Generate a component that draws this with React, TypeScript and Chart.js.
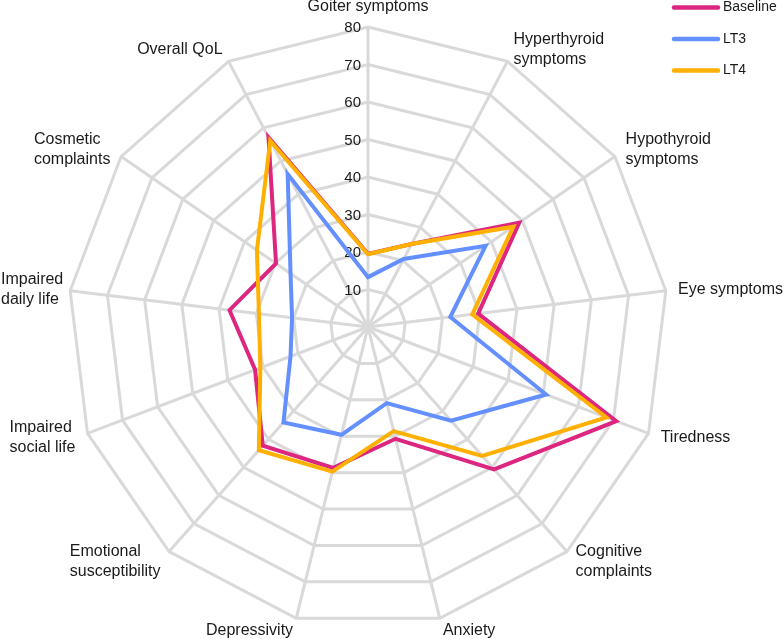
import React, { useEffect, useRef } from 'react';
import { Chart, registerables } from 'chart.js';

Chart.register(...registerables);

const CATEGORIES: string[][] = [
  ['Goiter symptoms'],
  ['Hyperthyroid', 'symptoms'],
  ['Hypothyroid', 'symptoms'],
  ['Eye symptoms'],
  ['Tiredness'],
  ['Cognitive', 'complaints'],
  ['Anxiety'],
  ['Depressivity'],
  ['Emotional', 'susceptibility'],
  ['Impaired', 'social life'],
  ['Impaired', 'daily life'],
  ['Cosmetic', 'complaints'],
  ['Overall QoL'],
];

const SERIES_NAMES = ['Baseline', 'LT3', 'LT4'];
const BASELINE = [19.5, 25, 49, 29.6, 70.8, 50.7, 30.7, 38.7, 42.3, 32.2, 37.2, 29.8, 57.1];
const LT3 = [13.3, 20.5, 38.1, 22.1, 50.8, 33.4, 20.9, 29.6, 34, 22.1, 20.4, 25.1, 46.1];
const LT4 = [19.4, 25, 47.1, 28, 68, 45.9, 28.6, 39.7, 43.9, 30.7, 29.3, 36, 56.1];
const TICKS = [10, 20, 30, 40, 50, 60, 70, 80];
const COLORS = ['#DC267F', '#648FFF', '#FFB000'];

const FONT = 'Arial, "Liberation Sans", Helvetica, sans-serif';

const decorPlugin = {
  id: 'decor',
  beforeDatasetsDraw(chart: any) {
    const s = chart.scales.r;
    const ctx = chart.ctx as CanvasRenderingContext2D;
    ctx.save();
    ctx.fillStyle = '#1a1a1a';
    ctx.font = `15px ${FONT}`;
    ctx.textAlign = 'right';
    ctx.textBaseline = 'middle';
    for (const v of TICKS) {
      const y = s.yCenter - s.getDistanceFromCenterForValue(v);
      ctx.fillText(String(v), s.xCenter - 7, y + 1);
    }
    ctx.restore();
  },
  afterDraw(chart: any) {
    const s = chart.scales.r;
    const ctx = chart.ctx as CanvasRenderingContext2D;
    ctx.save();
    ctx.fillStyle = '#1a1a1a';
    ctx.font = `16px ${FONT}`;
    ctx.textAlign = 'left';
    ctx.textBaseline = 'middle';
    const LH = 20;
    CATEGORIES.forEach((lines, i) => {
      const p = s.getPointPosition(i, s.drawingArea + 13);
      const w = Math.max(...lines.map((t) => ctx.measureText(t).width));
      const h = lines.length * LH;
      const dx = p.x - s.xCenter;
      let left: number;
      let top: number;
      if (Math.abs(dx) < 1) {
        left = p.x - w / 2;
        top = p.y - h + 3;
      } else {
        left = dx > 0 ? p.x : p.x - w;
        top = p.y - h / 2;
      }
      left = Math.max(1, Math.min(left, chart.width - w - 1));
      lines.forEach((t, k) => ctx.fillText(t, left, top + LH / 2 + k * LH));
    });

    // legend
    ctx.font = `14px ${FONT}`;
    const x0 = chart.width - 110;
    chart.data.datasets.forEach((ds: any, i: number) => {
      const y = 7.5 + i * 31.5;
      ctx.strokeStyle = ds.borderColor;
      ctx.lineWidth = 4.5;
      ctx.lineCap = 'round';
      ctx.beginPath();
      ctx.moveTo(x0, y);
      ctx.lineTo(x0 + 44, y);
      ctx.stroke();
      ctx.fillStyle = '#1a1a1a';
      ctx.fillText(ds.label, x0 + 49, y);
    });
    ctx.restore();
  },
};

export default function App() {
  const ref = useRef<HTMLCanvasElement | null>(null);
  useEffect(() => {
    if (!ref.current) return;
    const seriesData = [BASELINE, LT3, LT4];
    const chart = new Chart(ref.current, {
      type: 'radar',
      data: {
        labels: CATEGORIES.map((l) => l.join(' ')),
        datasets: SERIES_NAMES.map((name, i) => ({
          label: name,
          data: seriesData[i],
          borderColor: COLORS[i],
          backgroundColor: COLORS[i],
          borderWidth: 4,
          pointRadius: 0,
          pointHoverRadius: 0,
          fill: false,
          tension: 0,
          borderJoinStyle: 'miter' as const,
          order: 3 - i,
        })),
      },
      options: {
        animation: false,
        responsive: true,
        maintainAspectRatio: false,
        layout: { padding: { left: 68, right: 116, top: 27, bottom: 12 } },
        plugins: {
          legend: { display: false },
          tooltip: { enabled: false },
        },
        scales: {
          r: {
            min: 0,
            max: 80,
            beginAtZero: true,
            ticks: { stepSize: 10, display: false },
            pointLabels: { display: false },
            grid: { color: '#d9d9d9', lineWidth: 3, circular: false },
            angleLines: { color: '#d9d9d9', lineWidth: 3 },
          },
        },
      },
      plugins: [decorPlugin],
    });
    return () => chart.destroy();
  }, []);
  return (
    <div style={{ position: 'fixed', left: 0, top: 0, width: 784, height: 639, background: '#fff' }}>
      <canvas ref={ref} />
    </div>
  );
}
